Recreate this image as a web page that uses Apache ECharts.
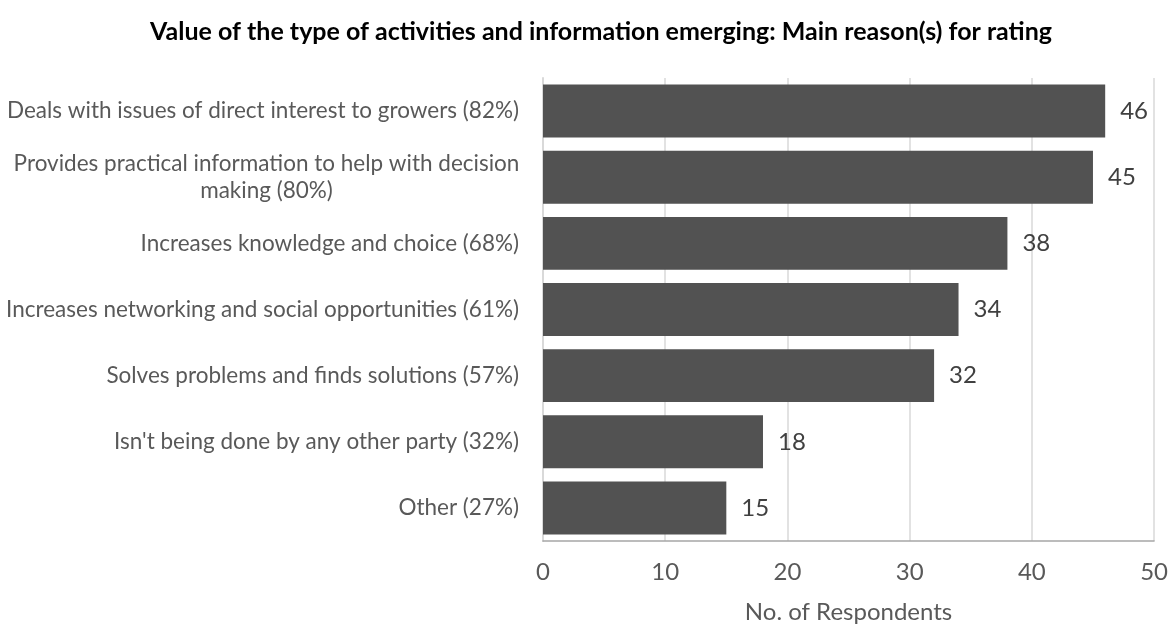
<!DOCTYPE html>
<html>
<head>
<meta charset="utf-8">
<script src="https://cdn.jsdelivr.net/npm/echarts@6/dist/echarts.min.js"></script>
<style>
  html, body { margin: 0; padding: 0; background: #fff; }
  #chart { width: 1171px; height: 629px; }
</style>
</head>
<body>
<div id="chart"></div>
<script>
const titleText = 'Value of the type of activities and information emerging: Main reason(s) for rating';
const categories = [
  'Deals with issues of direct interest to growers (82%)',
  'Provides practical information to help with decision\nmaking (80%)',
  'Increases knowledge and choice (68%)',
  'Increases networking and social opportunities (61%)',
  'Solves problems and finds solutions (57%)',
  "Isn't being done by any other party (32%)",
  'Other (27%)'
];
const respondents = [46, 45, 38, 34, 32, 18, 15];
const axisName = 'No. of Respondents';

const FONT = 'Lato, "Open Sans", sans-serif';

const chart = echarts.init(document.getElementById('chart'), null, { renderer: 'canvas' });
chart.setOption({
  animation: false,
  backgroundColor: '#ffffff',
  title: {
    text: titleText,
    left: 596,
    textAlign: 'center',
    top: 14,
    textStyle: { fontFamily: FONT, fontWeight: 'bold', fontSize: 25, color: '#000000' }
  },
  grid: { left: 543, right: 15, top: 78, bottom: 81, containLabel: false },
  xAxis: {
    type: 'value',
    min: 0,
    max: 50,
    interval: 10,
    name: axisName,
    nameLocation: 'middle',
    nameGap: 59,
    nameTextStyle: { fontFamily: FONT, fontSize: 24, color: '#595959' },
    axisLine: { show: true, lineStyle: { color: '#a6a6a6', width: 1.5 } },
    axisTick: { show: false },
    axisLabel: { fontFamily: FONT, fontSize: 24, color: '#595959', margin: 19 },
    splitLine: { show: true, lineStyle: { color: '#d9d9d9', width: 1.5 } }
  },
  yAxis: {
    type: 'category',
    data: categories,
    inverse: true,
    axisLine: { show: true, lineStyle: { color: '#d9d9d9', width: 2 } },
    axisTick: { show: false },
    axisLabel: {
      margin: 24,
      fontFamily: FONT,
      fontSize: 22.5,
      color: '#595959',
      formatter: function (v) {
        if (v.indexOf('\n') >= 0) return '{c|' + v + '}';
        return v;
      },
      rich: {
        c: { fontFamily: FONT, fontSize: 22.5, color: '#595959', width: 505, align: 'center', lineHeight: 27 }
      }
    }
  },
  series: [{
    type: 'bar',
    data: respondents,
    barCategoryGap: '20%',
    itemStyle: { color: '#525252' },
    label: {
      show: true,
      position: 'right',
      distance: 15,
      fontFamily: FONT,
      fontSize: 24,
      color: '#404040'
    }
  }]
});
</script>
</body>
</html>
